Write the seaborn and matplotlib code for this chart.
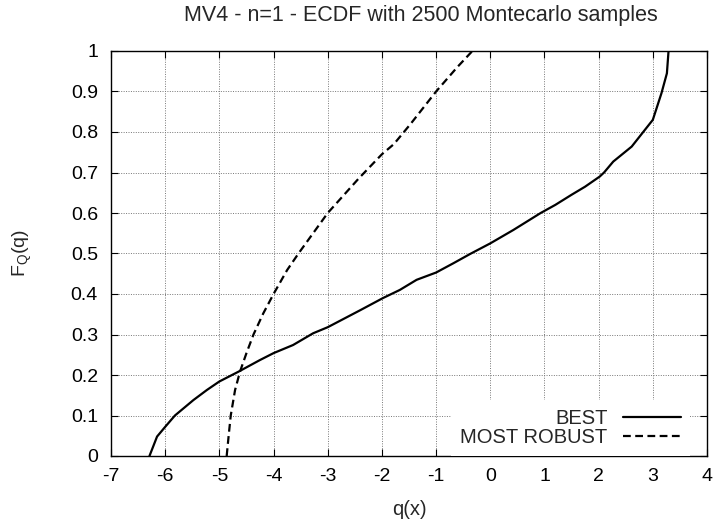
import matplotlib
matplotlib.use("Agg")
import matplotlib.pyplot as plt
from matplotlib.lines import Line2D
import seaborn as sns
import pandas as pd

# ---- data ----
best_q = [-6.29, -6.15, -6.0, -5.82, -5.48, -5.23, -5.0, -4.65, -4.25, -4.0, -3.64,
          -3.27, -3.0, -2.4, -1.98, -1.67, -1.36, -1.0, -0.68, -0.37, 0.0, 0.425,
          0.93, 1.2, 1.5, 1.75, 2.02, 2.1, 2.27, 2.61, 3.0, 3.16, 3.26, 3.29]
best_F = [0.0, 0.048, 0.072, 0.10, 0.138, 0.163, 0.184, 0.208, 0.237, 0.254, 0.274,
          0.303, 0.318, 0.36, 0.39, 0.41, 0.435, 0.453, 0.476, 0.499, 0.525, 0.558,
          0.60, 0.62, 0.645, 0.665, 0.69, 0.70, 0.727, 0.764, 0.83, 0.896, 0.945, 1.0]
robust_q = [-4.865, -4.83, -4.79, -4.71, -4.62, -4.5, -4.37, -4.19, -4.0, -3.75,
            -3.54, -3.0, -2.43, -2.0, -1.78, -1.47, -1.0, -0.61, -0.33]
robust_F = [0.0, 0.048, 0.10, 0.163, 0.208, 0.254, 0.30, 0.352, 0.40, 0.459,
            0.50, 0.60, 0.685, 0.745, 0.77, 0.82, 0.90, 0.96, 1.0]
series_names = ["BEST", "MOST ROBUST"]
x_ticks = [-7, -6, -5, -4, -3, -2, -1, 0, 1, 2, 3, 4]
y_ticks = [0, 0.1, 0.2, 0.3, 0.4, 0.5, 0.6, 0.7, 0.8, 0.9, 1.0]
y_tick_labels = ["0", "0.1", "0.2", "0.3", "0.4", "0.5", "0.6", "0.7", "0.8", "0.9", "1"]
title = "MV4 - n=1 - ECDF with 2500 Montecarlo samples"
xlabel = "q(x)"
ylabel = r"F$_\mathregular{Q}$(q)"

df = pd.concat([
    pd.DataFrame({"q": best_q, "F": best_F, "series": series_names[0]}),
    pd.DataFrame({"q": robust_q, "F": robust_F, "series": series_names[1]}),
], ignore_index=True)

sns.set_style("ticks")
plt.rcParams["font.family"] = ["Liberation Sans", "DejaVu Sans"]
plt.rcParams["mathtext.fontset"] = "custom"
plt.rcParams["mathtext.rm"] = "Liberation Sans"

W, H = 718, 527
fig = plt.figure(figsize=(W / 100, H / 100), dpi=100)
ax = fig.add_axes([111 / W, 71 / H, 596 / W, 405 / H])

DASH = (3.5, 2.0)
sns.lineplot(data=df, x="q", y="F", hue="series", style="series",
             palette={series_names[0]: "black", series_names[1]: "black"},
             dashes={series_names[0]: "", series_names[1]: DASH},
             estimator=None, sort=False, linewidth=1.6, ax=ax, legend=False)

handles = [Line2D([], [], color="black", lw=1.6),
           Line2D([], [], color="black", lw=1.6, dashes=DASH)]

ax.set_xlim(-7, 4)
ax.set_ylim(0, 1)
ax.set_xticks(x_ticks)
ax.set_xticklabels([str(v) for v in x_ticks])
ax.set_yticks(y_ticks)
ax.set_yticklabels(y_tick_labels)
ax.tick_params(direction="in", length=5, width=0.8, top=True, right=True,
               labelsize=14, colors="black")
ax.tick_params(axis="x", pad=8.6)
ax.tick_params(axis="y", pad=9.4)
ax.grid(True, linestyle=(0, (1, 1.5)), color="#777777", linewidth=0.7)
for s in ax.spines.values():
    s.set_linewidth(1.0)
    s.set_color("black")

fig.text(421 / W, 1 - 20.5 / H, title, fontsize=15.5, ha="center", va="baseline")
ax.set_xlabel(xlabel, fontsize=14.5, va="top")
ax.xaxis.set_label_coords(0.5, (456 - 500) / 405)
ax.set_ylabel(ylabel, fontsize=14)
ax.yaxis.set_label_coords((34 - 111) / 596, 0.5)

leg = ax.legend(handles, series_names, loc="lower right", markerfirst=False,
                bbox_to_anchor=(1 - 17 / 596, 0.0), bbox_transform=ax.transAxes,
                frameon=True, fancybox=False, fontsize=14.5, handlelength=2.9,
                handletextpad=0.75, labelspacing=0.0, borderaxespad=0.0,
                borderpad=0.45)
leg.get_frame().set_facecolor("white")
leg.get_frame().set_edgecolor("white")
leg.get_frame().set_alpha(1.0)
leg.get_frame().set_linewidth(0)

fig.savefig("out.png", dpi=100)
